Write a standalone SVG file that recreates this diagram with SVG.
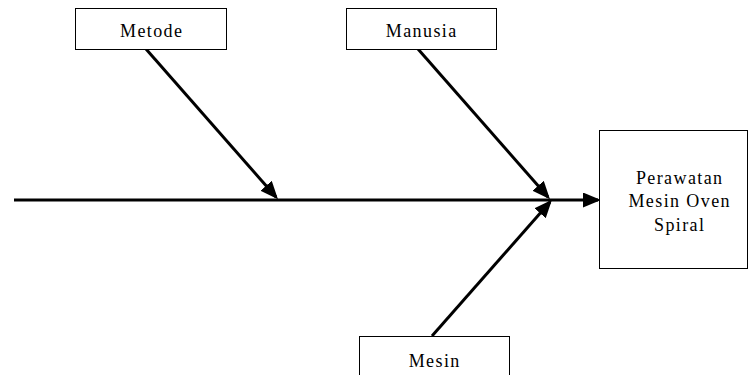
<svg xmlns="http://www.w3.org/2000/svg" width="749" height="375" viewBox="0 0 749 375">
<style>
.box{fill:#fff;stroke:#000;stroke-width:1}
.t{font-family:"Liberation Serif","Times New Roman",serif;font-size:18px;letter-spacing:1.4px;text-anchor:middle;fill:#000}
.c{stroke:#000;stroke-width:3;fill:none}
</style>
<defs>
<marker id="ah" markerWidth="6" markerHeight="5" refX="5" refY="2.5" orient="auto" markerUnits="strokeWidth">
<path d="M0,0 L6,2.5 L0,5 Z" fill="#000"/>
</marker>
</defs>
<rect width="749" height="375" fill="#fff"/>
<g id="connectors">
<line class="c" x1="14" y1="200" x2="598" y2="200" marker-end="url(#ah)"/>
<line class="c" x1="146" y1="49" x2="276" y2="197" marker-end="url(#ah)"/>
<line class="c" x1="418" y1="49" x2="548" y2="197" marker-end="url(#ah)"/>
<line class="c" x1="432" y1="336" x2="550" y2="202" marker-end="url(#ah)"/>
</g>
<g id="metode">
<rect class="box" x="75.5" y="8.5" width="151" height="41"/>
<text class="t" x="151.7" y="37">Metode</text>
</g>
<g id="manusia">
<rect class="box" x="346.5" y="8.5" width="150" height="41"/>
<text class="t" x="421.7" y="37">Manusia</text>
</g>
<g id="mesin">
<rect class="box" x="359.5" y="336.5" width="150" height="45"/>
<text class="t" x="434.7" y="367">Mesin</text>
</g>
<g id="effect">
<rect class="box" x="599.5" y="130.5" width="148" height="138"/>
<text class="t" x="679.7" y="184">Perawatan</text>
<text class="t" x="679.7" y="207">Mesin Oven</text>
<text class="t" x="679.7" y="231">Spiral</text>
</g>
</svg>
